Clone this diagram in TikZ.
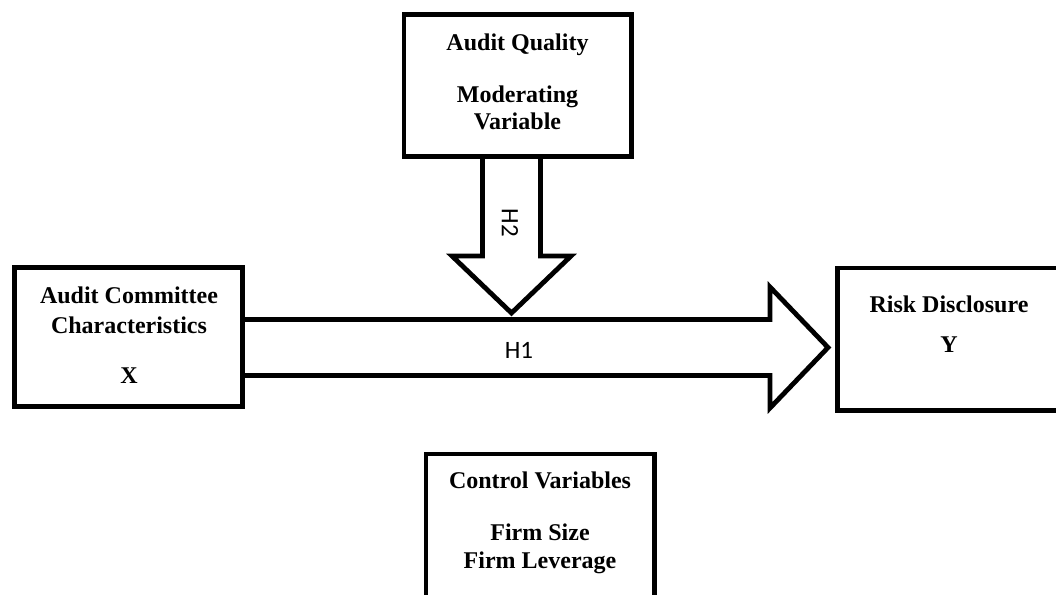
\documentclass[tikz,border=0pt]{standalone}
\usepackage{fontspec}
\setmainfont{Liberation Serif}
\newfontfamily\lbl{Carlito}
\begin{document}
\begin{tikzpicture}[x=1pt,y=-1pt,
  box/.style={draw=black,line width=4.8pt,fill=white},
  txt/.style={anchor=base,inner sep=0pt,font=\fontsize{24}{28}\selectfont\bfseries},
  blk/.style={draw=black,line width=4.8pt,fill=white,line join=miter},
  hlab/.style={inner sep=0pt,font=\lbl\fontsize{25}{29}\selectfont}]
\useasboundingbox (0,0) rectangle (1056,594);
% boxes
\draw[box] (404,14.5) rectangle (631.5,156.5);
\draw[box] (14.5,267.5) rectangle (242.5,406.5);
\draw[box] (837.5,268) rectangle (1062,410.5);
\draw[box] (426,454) rectangle (654.5,604);
% H1 block arrow
\coordinate (h1s) at (242.5,347.5);
\coordinate (h1t) at (828,347.5);
\draw[blk] (242.5,319.5) -- (770,319.5) -- (770,287) -- (h1t) -- (770,408) -- (770,375.5) -- (242.5,375.5);
% H2 block arrow
\coordinate (h2s) at (511.5,156.5);
\coordinate (h2t) at (511.5,313);
\draw[blk] (482.5,156.5) -- (482.5,256) -- (452,256) -- (h2t) -- (571,256) -- (540.5,256) -- (540.5,156.5);
% redraw edges over the arrows
\draw[line width=4.8pt] (404,156.5) -- (631.5,156.5);
\draw[line width=4.8pt] (242.5,267.5) -- (242.5,406.5);
% labels
\node[hlab,anchor=base] (h1) at (519,358) {H1};
\node[hlab,rotate=-90] (h2) at (510,223) {H2};
% texts
\node[txt] (aq1) at (517.5,50) {Audit Quality};
\node[txt] (aq2) at (517.5,102.5) {Moderating};
\node[txt] (aq3) at (517.5,129) {Variable};
\node[txt] (ac1) at (129,303) {Audit Committee};
\node[txt] (ac2) at (129,333) {Characteristics};
\node[txt] (ac3) at (129,383) {X};
\node[txt] (rd1) at (949,312) {Risk Disclosure};
\node[txt] (rd2) at (949,352) {Y};
\node[txt] (cv1) at (540,488) {Control Variables};
\node[txt] (cv2) at (540,540) {Firm Size};
\node[txt] (cv3) at (540,568) {Firm Leverage};
\end{tikzpicture}
\end{document}
